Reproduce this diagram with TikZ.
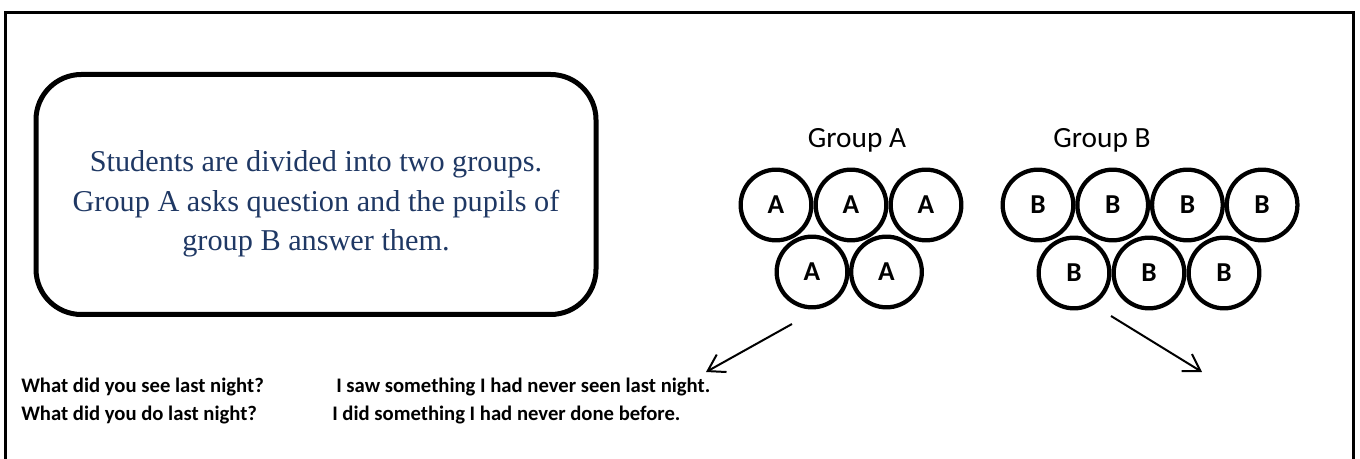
\documentclass[tikz,border=0pt]{standalone}
\usepackage{fontspec}
\setmainfont{Liberation Serif}
\newfontfamily\calibri{Carlito}
\usetikzlibrary{arrows.meta}
\definecolor{navy}{RGB}{31,56,100}

\begin{document}
\begin{tikzpicture}[x=0.75pt,y=-0.75pt]
    \tikzstyle{pupil}=[circle,draw=black,line width=3.2pt,minimum size=53pt,inner sep=0pt,font=\calibri\bfseries\fontsize{20.5}{23}\selectfont]
    \tikzstyle{group label}=[anchor=base,font=\calibri\fontsize{22}{26}\selectfont]
    \tikzstyle{info}=[anchor=base,text=navy,inner sep=0pt,font=\fontsize{22.7}{27}\selectfont]
    \tikzstyle{dialog}=[anchor=base west,inner sep=0pt,font=\calibri\bfseries\fontsize{15.5}{18}\selectfont]
    \tikzstyle{hint}=[line width=1.5pt,-{Straight Barb[length=12pt,width=15pt]}]

    \useasboundingbox (0,0) rectangle (1360,459);
    \draw[line width=2.25pt] (5,470) -- (5,13) -- (1353,13) -- (1353,470);

    % task card
    \node[draw,line width=3.75pt,rounded corners=34pt,minimum width=420pt,minimum height=180pt] (card) at (316,194.5) {};
    \node[info] (card-1) at (316,172) {Students are divided into two groups.};
    \node[info] (card-2) at (316,211.5) {Group A asks question and the pupils of};
    \node[info] (card-3) at (316,251) {group B answer them.};

    % group A
    \node[group label] (GA) at (857,148) {Group A};
    \foreach \x in {0,1,2}{
        \pgfmathsetmacro\y{776+75*\x}
        \node[pupil] (A-\x) at (\y,205) {A};
        }
    \foreach \x in {0,1}{
        \pgfmathsetmacro\y{812+74.5*\x}
        \node[pupil] (A2-\x) at (\y,272) {A};
        }

    % group B
    \node[group label] (GB) at (1102,148) {Group B};
    \foreach \x in {0,1,2,3}{
        \pgfmathsetmacro\y{1038+74.7*\x}
        \node[pupil] (B-\x) at (\y,205) {B};
        }
    \foreach \x in {0,1,2}{
        \pgfmathsetmacro\y{1074+75*\x}
        \node[pupil] (B2-\x) at (\y,273) {B};
        }

    \coordinate (qa-from) at (792,324);
    \coordinate (qa-to) at (706,372);
    \coordinate (qb-from) at (1111,316);
    \coordinate (qb-to) at (1202,372);
    \draw[hint] (qa-from) -- (qa-to);
    \draw[hint] (qb-from) -- (qb-to);

    \node[dialog] (Q1) at (21,393) {What did you see last night?};
    \node[dialog] (R1) at (336,393) {I saw something I had never seen last night.};
    \node[dialog] (Q2) at (21,421) {What did you do last night?};
    \node[dialog] (R2) at (332,421) {I did something I had never done before.};
\end{tikzpicture}
\end{document}
